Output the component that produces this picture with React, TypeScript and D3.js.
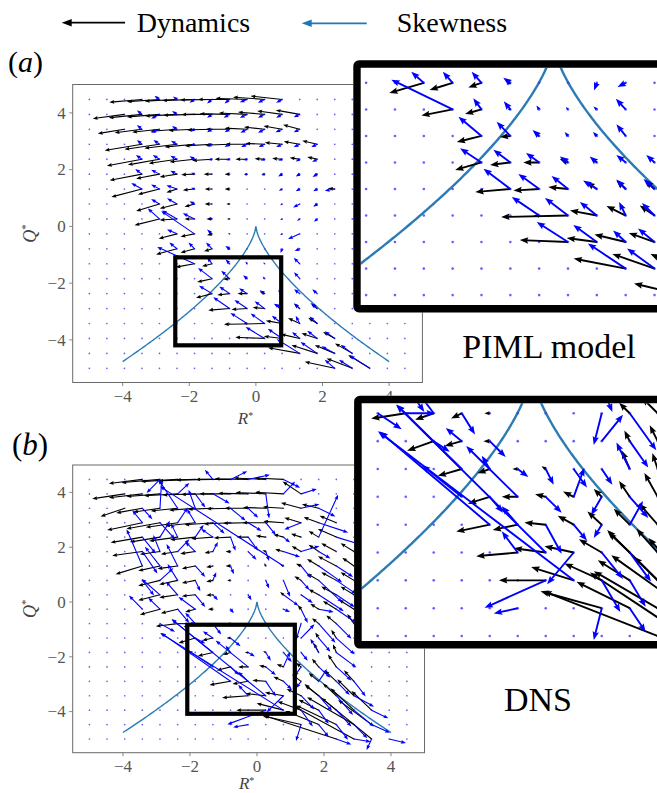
import React, { useLayoutEffect } from 'react';
import * as d3 from 'd3';

// quiver grid (linspace(-5,5,20), last node outside the axes)
const GRID = [-5, -4.474, -3.947, -3.421, -2.895, -2.368, -1.842, -1.316, -0.789, -0.263, 0.263, 0.789, 1.316, 1.842, 2.368, 2.895, 3.421, 3.947, 4.474];
const AXIS_DOMAIN: [number, number] = [-5.5, 5];
const TICKS = [-4, -2, 0, 2, 4];
const CURVE_R_EXTENT: [number, number] = [-4, 4];
// zoom boxes [R0, R1, Q0, Q1]
const ZOOM_BOX_A = [-2.42, 0.76, -4.19, -1.09];
const ZOOM_BOX_B = [-2.08, 1.13, -4.08, -0.83];
// inset view extents
const INSET_A_R: [number, number] = [-3.52, 1.9];
const INSET_A_Q: [number, number] = [-5.196, -0.488];
const INSET_B_R: [number, number] = [-3.196, 2.355];
const INSET_B_Q: [number, number] = [-5.094, -0.6];

type Arrow = [number, number, number, number]; // [col k, row r, dR, dQ]

// (a) PIML model — dynamics (black)
const BLACK_A: Arrow[] = [
  [3,18,-0.98,-0.10],[4,18,-0.98,-0.08],[5,18,-0.97,-0.06],[6,18,-0.97,-0.04],[7,18,-0.96,-0.02],[8,18,-0.95,0],[9,18,-0.95,0.04],[10,18,-0.95,0.08],[11,18,-0.95,0.12],
  [2,17,-0.95,-0.15],[3,17,-1.0,-0.12],[4,17,-0.98,-0.09],[5,17,-0.96,-0.06],[6,17,-0.94,-0.03],[7,17,-0.92,0],[8,17,-0.9,0.02],[9,17,-0.85,0.05],[10,17,-0.8,0.08],[11,17,-0.75,0.12],[12,17,-0.72,0.15],
  [2,16,-0.8,-0.15],[3,16,-0.82,-0.12],[4,16,-0.82,-0.1],[5,16,-0.8,-0.07],[6,16,-0.78,-0.04],[7,16,-0.75,-0.02],[8,16,-0.72,0],[9,16,-0.68,0.04],[10,16,-0.62,0.08],[11,16,-0.56,0.12],[12,16,-0.5,0.16],
  [3,15,-1.12,-0.22],[4,15,-1.05,-0.18],[5,15,-0.98,-0.14],[6,15,-0.9,-0.1],[7,15,-0.82,-0.06],[8,15,-0.74,-0.03],[9,15,-0.65,0],[10,15,-0.58,0.03],[11,15,-0.52,0.06],[12,15,-0.48,0.1],[13,15,-0.45,0.12],
  [3,14,-1.05,-0.23],[4,14,-0.95,-0.2],[5,14,-0.85,-0.15],[6,14,-0.75,-0.1],[7,14,-0.6,-0.05],[8,14,-0.45,0],[9,14,-0.35,0],[10,14,-0.3,0.02],[11,14,-0.3,0.03],[12,14,-0.3,0.05],[13,14,-0.3,0.08],
  [3,13,-0.97,-0.22],[4,13,-0.7,-0.16],[5,13,-0.52,-0.1],[6,13,-0.4,-0.02],[7,13,-0.25,0],[8,13,-0.15,0],[9,13,-0.1,0],[10,13,-0.1,0],[11,13,-0.08,0],[12,13,-0.08,0],[13,13,-0.08,0],
  [3,12,-0.92,-0.28],[4,12,-0.65,-0.19],[5,12,-0.32,-0.12],[6,12,-0.35,-0.04],[7,12,-0.22,0],[8,12,-0.15,0],[12,12,-0.06,0],[13,12,-0.06,0],[14,12,-0.2,0.03],
  [4,11,-0.7,-0.25],[5,11,-0.52,-0.16],[6,11,-0.3,-0.1],[7,11,-0.22,0],[8,11,-0.1,0],[13,11,-0.06,0],
  [4,10,-0.75,-0.22],[5,10,-0.52,-0.04],[6,10,-0.3,0],[7,10,-0.17,0],[8,10,-0.08,0],
  [5,9,-0.55,-0.17],[6,9,-0.42,-0.1],[7,9,-0.15,-0.05],[8,9,-0.05,0],
  [5,8,-0.63,-0.2],[6,8,-0.42,-0.14],[7,8,-0.24,-0.09],[8,8,-0.07,-0.03],
  [6,7,-0.57,-0.12],[7,7,-0.3,-0.09],[8,7,-0.05,0],
  [7,6,-0.45,-0.12],[8,6,-0.19,-0.02],[9,6,-0.05,0],
  [7,5,-0.48,-0.15],[8,5,-0.37,-0.05],[9,5,-0.29,0],[10,5,-0.15,0.07],[11,5,-0.04,0.03],
  [8,4,-0.64,-0.06],[9,4,-0.47,-0.03],[10,4,-0.36,0.04],[11,4,-0.19,0.14],[12,4,-0.17,0.17],[13,4,-0.17,0.17],
  [9,3,-0.1,0],[10,3,-1.22,-0.03],[11,3,-0.49,0.1],[12,3,-0.35,0.19],[13,3,-0.27,0.2],
  [10,2,-0.88,0.04],[11,2,-0.55,0.08],[12,2,-0.57,0.15],[13,2,-0.47,0.18],[14,2,-0.35,0.23],
  [12,1,-0.95,0.2],[13,1,-0.77,0.29],[14,1,-0.6,0.29],[15,1,-0.52,0.35],
  [14,0,-0.9,0.23],[15,0,-0.77,0.35],[16,0,-0.65,0.47],
];

// (a) PIML model — skewness (blue)
const BLUE_A: Arrow[] = [
  [4,18,-0.15,0.13],[5,18,-0.12,0.1],[6,18,-0.15,-0.12],[7,18,-0.15,-0.14],[8,18,-0.15,-0.14],[9,18,-0.22,-0.1],[10,18,-0.2,-0.12],[11,18,-0.18,-0.12],
  [3,17,-0.15,0.15],[4,17,-0.25,-0.15],[5,17,-0.15,0.12],[7,17,-0.15,-0.12],[8,17,-0.18,-0.12],[9,17,-0.22,-0.12],[10,17,-0.2,-0.12],[11,17,-0.18,-0.12],[12,17,-0.18,-0.1],
  [3,16,-0.15,0.15],[4,16,-0.25,-0.12],[5,16,-0.15,0.12],[6,16,-0.12,-0.08],[7,16,-0.15,-0.1],[8,16,-0.15,-0.1],[9,16,-0.2,-0.12],[10,16,-0.2,-0.12],[11,16,-0.2,-0.1],[12,16,-0.18,-0.1],
  [3,15,-0.15,0.15],[4,15,-0.18,0.15],[5,15,-0.18,0.12],[6,15,-0.12,-0.05],[7,15,-0.15,-0.08],[8,15,-0.15,-0.1],[9,15,-0.18,-0.1],[10,15,-0.18,-0.1],[11,15,-0.18,-0.1],[12,15,-0.18,-0.1],[13,15,-0.18,-0.1],
  [3,14,-0.18,0.15],[4,14,-0.2,0.15],[5,14,-0.2,0.12],[6,14,-0.15,0.1],[7,14,-0.12,-0.03],[8,14,-0.12,-0.03],[9,14,-0.12,-0.03],[10,14,-0.12,-0.05],[11,14,-0.12,-0.05],[12,14,-0.12,-0.08],[13,14,-0.15,-0.1],
  [3,13,-0.2,0.18],[4,13,-0.25,0.15],[5,13,-0.2,0.12],[6,13,-0.1,0.05],[9,13,-0.06,-0.05],[10,13,-0.08,-0.05],[11,13,-0.12,-0.08],[12,13,-0.12,-0.08],[13,13,-0.14,-0.1],
  [3,12,-0.32,0.21],[4,12,-0.25,0.16],[5,12,-0.32,0.13],[6,12,-0.1,0.05],[11,12,-0.1,-0.06],[12,12,-0.12,-0.08],[13,12,-0.12,-0.08],[14,12,-0.3,-0.06],
  [4,11,-0.25,0.18],[5,11,-0.3,0.2],[6,11,-0.15,0.1],[11,11,-0.06,-0.04],[12,11,-0.2,-0.12],[13,11,-0.12,-0.1],
  [4,10,-0.35,0.37],[5,10,-0.45,0.3],[6,10,-0.35,0.2],[7,10,-0.08,0.05],[11,10,-0.06,-0.04],[12,10,-0.08,-0.06],[13,10,-0.1,-0.1],
  [5,9,-0.3,0.15],[6,9,-1.0,0.8],[7,9,-0.15,0.15],[11,9,-0.06,-0.04],[12,9,-0.35,-0.18],
  [5,8,-0.23,0.22],[6,8,-0.18,0.22],[7,8,-0.18,0.22],[8,8,-0.13,0.1],[11,8,-0.05,-0.15],[12,8,-0.15,-0.08],
  [6,7,-1.12,0.59],[7,7,-0.15,0.22],[8,7,-0.12,0.16],[9,7,-0.05,0.08],[10,7,-0.04,0.05],[11,7,-0.06,0.06],[12,7,-0.18,0.21],
  [7,6,-0.42,0.38],[8,6,-0.25,0.28],[9,6,-0.12,0.12],[10,6,-0.06,0.08],[11,6,-0.07,0.08],[12,6,-0.17,0.23],
  [7,5,-0.39,0.28],[8,5,-0.31,0.25],[9,5,-0.24,0.19],[10,5,-0.15,0.12],[11,5,-0.13,0.12],[12,5,-0.17,0.15],[13,5,-0.15,0.15],
  [8,4,-0.49,0.4],[9,4,-0.38,0.3],[10,4,-0.3,0.26],[11,4,-0.25,0.17],[12,4,-0.17,0.19],[13,4,-0.2,0.2],
  [9,3,-0.5,0.37],[10,3,-0.42,0.35],[11,3,-0.31,0.27],[12,3,-0.12,0.27],[13,3,-0.23,0.25],
  [10,2,-0.57,0.4],[11,2,-0.43,0.34],[12,2,-0.23,0.23],[13,2,-0.3,0.27],[14,2,-0.3,0.25],
  [12,1,-0.69,0.5],[13,1,-0.5,0.4],[14,1,-0.4,0.25],[15,1,-0.35,0.3],
  [14,0,-0.3,0.3],[15,0,-0.4,0.3],[16,0,-0.6,0.45],
];

// (b) DNS — dynamics (black)
const BLACK_B: Arrow[] = [
  [3,18,-1.0,-0.15],[4,18,-1.15,-0.12],[5,18,-1.1,-0.08],[6,18,-1.1,-0.05],[7,18,-1.1,-0.02],[8,18,-1.05,0],[9,18,-1.0,0.02],[10,18,-0.95,0.05],[11,18,-0.85,0.05],
  [2,17,-0.97,-0.18],[3,17,-1.0,-0.14],[4,17,-1.0,-0.1],[5,17,-1.0,-0.07],[6,17,-0.98,-0.04],[7,17,-0.95,-0.02],[8,17,-0.93,0],[9,17,-0.9,0.02],[10,17,-0.9,0.05],[11,17,-0.85,0.06],[12,17,-0.55,0.45],
  [2,16,-0.72,-0.3],[3,16,-0.78,-0.17],[4,16,-0.8,-0.14],[5,16,-0.8,-0.1],[6,16,-0.78,-0.07],[7,16,-0.75,-0.04],[8,16,-0.72,-0.02],[9,16,-0.7,0],[10,16,-0.68,0.03],[11,16,-0.62,0.05],[12,16,-0.6,0.2],[13,16,-0.5,0.15],
  [3,15,-1.05,-0.27],[4,15,-1.0,-0.22],[5,15,-0.95,-0.17],[6,15,-0.9,-0.12],[7,15,-0.85,-0.08],[8,15,-0.8,-0.05],[9,15,-0.75,-0.02],[10,15,-0.7,0],[11,15,-0.6,0.05],[12,15,-0.5,0.18],[13,15,-0.45,0.2],[14,15,-0.5,0.25],
  [3,14,-0.95,-0.2],[4,14,-0.9,-0.18],[5,14,-0.85,-0.14],[6,14,-0.75,-0.1],[7,14,-0.65,-0.06],[8,14,-0.5,-0.03],[9,14,-0.35,0],[10,14,-0.3,0.05],[11,14,-0.3,0.1],[12,14,-0.3,0.12],[13,14,-0.3,0.22],[14,14,-0.55,0.3],
  [3,13,-0.9,-0.15],[4,13,-0.6,-0.1],[5,13,-0.5,-0.1],[6,13,-0.45,-0.08],[7,13,-0.25,-0.05],[8,13,-0.15,0],[10,13,-0.1,0.05],[11,13,-0.25,0.08],[12,13,-0.28,0.2],[13,13,-0.3,0.25],[14,13,-0.45,0.3],[15,13,-0.4,0.3],
  [3,12,-0.8,-0.3],[4,12,-0.65,-0.18],[5,12,-0.6,-0.1],[6,12,-0.4,-0.1],[7,12,-0.2,-0.05],[8,12,-0.15,0],[10,12,-0.05,0.1],[11,12,-0.1,0.05],[12,12,-0.15,0.08],[13,12,-0.35,0.25],[14,12,-0.55,0.35],[15,12,-0.35,0.3],
  [4,11,-0.65,-0.2],[5,11,-0.55,-0.15],[6,11,-0.4,-0.1],[7,11,-0.2,-0.05],[8,11,-0.1,0],[12,11,-0.2,0.15],[13,11,-0.35,0.25],[14,11,-0.45,0.3],[15,11,-0.4,0.3],
  [4,10,-0.65,-0.2],[5,10,-0.55,-0.1],[6,10,-0.4,-0.05],[7,10,-0.2,-0.02],[11,10,-0.1,0.1],[13,10,-0.3,0.2],[14,10,-0.45,0.3],[15,10,-0.4,0.3],
  [4,9,-0.6,-0.2],[5,9,-0.5,-0.15],[6,9,-0.3,-0.1],[7,9,-0.15,0],[12,9,-0.1,0.15],[13,9,-0.25,0.2],[14,9,-0.4,0.3],[15,9,-0.45,0.35],
  [5,8,-0.65,-0.1],[6,8,-0.35,-0.12],[7,8,-0.2,-0.1],[8,8,-0.1,0],[13,8,-0.2,0.2],[14,8,-0.3,0.3],[15,8,-0.2,0.35],
  [6,7,-0.5,-0.18],[7,7,-0.32,-0.09],[8,7,-0.12,0],[13,7,-0.1,0.2],[14,7,-0.15,0.3],
  [7,6,-0.45,-0.13],[8,6,-0.23,-0.08],[9,6,-0.1,0],[10,6,-0.08,0.05],[13,6,-0.15,0.35],[14,6,-0.1,0.3],
  [8,5,-0.41,-0.13],[9,5,-0.3,0],[10,5,-0.2,0.05],[11,5,-0.2,0.1],[12,5,-0.15,0.15],[13,5,-0.2,0.3],[14,5,-0.25,0.45],
  [8,4,-0.63,-0.13],[9,4,-0.47,-0.1],[10,4,-0.4,0.04],[11,4,-0.3,0.17],[12,4,-0.27,0.25],[13,4,-0.3,0.3],[14,4,-0.35,0.4],[15,4,-0.3,0.4],
  [9,3,-0.78,-0.07],[10,3,-0.6,0.08],[11,3,-0.55,0.12],[12,3,-0.43,0.25],[13,3,-0.4,0.38],[14,3,-0.4,0.45],[15,3,-0.5,0.6],
  [10,2,-0.88,0],[11,2,-0.8,0.25],[12,2,-0.7,0.32],[13,2,-0.6,0.38],[14,2,-0.95,0.95],[15,2,-0.7,0.8],[16,2,-0.6,0.7],
  [12,1,-1.15,0.32],[13,1,-1.0,0.5],[14,1,-1.2,0.7],[15,1,-1.4,1.0],[16,1,-1.0,0.9],
  [14,0,-2.15,0.85],[15,0,-1.8,1.2],[16,0,-1.5,1.5],
];

// (b) DNS — skewness (blue)
const BLUE_B: Arrow[] = [
  [4,18,-0.4,-0.5],[7,18,-0.24,0.35],[8,18,0.5,0.3],[9,18,0.65,0.17],[11,18,0.5,-0.3],
  [5,17,0.35,0.4],[6,17,0.3,-0.5],[7,17,0.5,-0.35],[10,17,0.1,-0.9],[11,17,0.35,0.45],[12,17,0.47,0.18],
  [3,16,0.3,-0.4],[4,16,0.05,1.05],[5,16,-0.58,1.06],[6,16,-0.2,0.68],[8,16,0.45,-0.45],[9,16,0.3,-0.35],[12,16,0.55,0.15],[13,16,0.5,-0.3],
  [3,15,-0.3,0.45],[4,15,0.45,-0.6],[5,15,0.3,0.55],[6,15,-0.25,0.5],[7,15,0.35,-0.4],[9,15,0.4,-0.3],[10,15,0.3,-0.45],[12,15,-0.5,-0.25],[13,15,0.88,-0.36],
  [3,14,0.4,-0.6],[4,14,0.3,0.6],[5,14,-0.2,0.5],[6,14,0.25,0.45],[7,14,-0.35,0.3],[8,14,0.15,-0.5],[9,14,0.3,-0.5],[11,14,0.2,-0.2],[13,14,0.58,1.55],[14,14,0.8,-0.3],
  [3,13,0.45,-0.8],[4,13,-0.2,0.6],[5,13,0.35,0.45],[6,13,-0.3,0.35],[7,13,0.15,0.35],[9,13,0.25,-0.3],[10,13,0.1,-0.35],[11,13,0.5,-0.2],[12,13,0.55,0.2],[13,13,0.35,-0.25],
  [3,12,-0.47,1.34],[4,12,-0.45,0.7],[5,12,-0.33,0.8],[6,12,0.3,-0.4],[8,12,0.1,-0.3],[11,12,-3.68,2.9],[12,12,0.3,-0.45],[13,12,0.7,-0.6],[14,12,0.5,-0.4],
  [3,11,0.35,-0.55],[4,11,0.4,0.45],[5,11,-0.3,0.6],[6,11,0.15,-0.4],[7,11,0.1,0.3],[10,11,0.1,-0.3],[11,11,0.2,-0.6],[12,11,0.25,-0.35],[13,11,0.7,-0.8],[14,11,0.6,-0.5],
  [4,10,-0.55,0.58],[5,10,-0.35,0.48],[6,10,0.3,-0.45],[7,10,0.15,-0.2],[9,10,0.1,-0.2],[11,10,0.45,-0.4],[12,10,0.35,-0.3],[13,10,0.75,-0.6],[14,10,0.55,-0.45],
  [3,9,-0.4,0.5],[4,9,-0.35,0.42],[5,9,0.35,-0.5],[6,9,-0.5,0.45],[8,9,0.1,-0.15],[11,9,0.2,-0.1],[12,9,0.2,-0.5],[13,9,0.45,-0.1],[14,9,0.6,-0.5],[15,9,0.5,-0.4],
  [4,8,0.45,-0.3],[5,8,0.55,0],[6,8,-0.3,0.4],[7,8,0.25,-0.4],[12,8,-0.15,-0.6],[13,8,0.5,-0.7],[14,8,0.45,-0.55],[15,8,0.6,-0.5],
  [6,7,0.3,-0.2],[7,7,-0.3,0.25],[8,7,0.3,-0.3],[12,7,0.4,0.5],[13,7,0.35,-0.5],[14,7,0.55,-0.6],
  [7,6,-1.23,1.22],[8,6,-0.15,0.25],[9,6,0.2,-0.15],[10,6,0.15,-0.3],[11,6,0.25,-0.35],[12,6,0.2,-0.3],[13,6,-0.25,0.5],[14,6,0.6,-0.55],
  [7,5,-0.75,0.6],[8,5,0.25,-0.3],[9,5,-0.97,0.96],[10,5,0.3,-0.3],[11,5,0.2,0.55],[12,5,-0.2,-0.35],[13,5,0.35,-0.4],[14,5,0.45,-0.5],
  [8,4,-2.07,1.76],[9,4,-0.3,0.35],[10,4,0.3,-0.55],[11,4,0.25,-0.3],[12,4,-0.15,-0.25],[13,4,0.25,0.45],[14,4,0.4,-0.5],[15,4,0.35,-0.55],
  [9,3,-0.3,0.4],[10,3,-2.81,2.79],[11,3,-0.5,-0.6],[12,3,0.4,-0.5],[13,3,0.4,-0.55],[14,3,0.5,-0.7],[15,3,0.6,-0.4],
  [10,2,-1.15,-0.52],[11,2,-3.68,2.82],[12,2,0.35,-0.6],[13,2,0.3,-0.5],[14,2,0.45,-0.6],[15,2,0.6,-0.6],[16,2,0.5,-0.3],
  [9,1,-0.45,-0.1],[12,1,-0.15,-0.6],[13,1,0.3,-0.45],[14,1,0.35,-0.55],[15,1,0.4,-0.5],[16,1,0.55,-0.3],
  [14,0,0.45,-0.2],[15,0,0.5,-0.1],[16,0,-0.15,-0.4],[17,0,0.5,-0.15],
];

const SERIF = 'Liberation Serif, DejaVu Serif, Times, serif';
const CURVE_COLOR = '#2b7bb4';
const BLUE = '#0000ff';

function arrowPath(x0: number, y0: number, x1: number, y1: number, w: number, hl: number, hw: number): string | null {
  const dx = x1 - x0, dy = y1 - y0;
  const L = Math.hypot(dx, dy);
  if (L < 0.6) return null;
  const s = L < hl ? L / hl : 1;
  const W = w * Math.max(s, 0.6), HL = hl * s, HW = hw * s, HA = 0.88 * HL;
  const pts: [number, number][] = [
    [0, -W / 2], [L - HA, -W / 2], [L - HL, -HW / 2], [L, 0], [L - HL, HW / 2], [L - HA, W / 2], [0, W / 2],
  ];
  const c = dx / L, sn = dy / L;
  return 'M' + pts.map(([px, py]) => `${(x0 + px * c - py * sn).toFixed(2)},${(y0 + px * sn + py * c).toFixed(2)}`).join('L') + 'Z';
}

function curvePoints(): [number, number][] {
  const n = 240;
  return d3.range(n + 1).map(i => {
    const R = CURVE_R_EXTENT[0] + (CURVE_R_EXTENT[1] - CURVE_R_EXTENT[0]) * i / n;
    return [R, -Math.cbrt(6.75 * R * R)] as [number, number];
  });
}

type Sc = d3.ScaleLinear<number, number>;

function Quiver({ xs, ys, black, blue, w, hl, hw, dotR }: { xs: Sc; ys: Sc; black: Arrow[]; blue: Arrow[]; w: number; hl: number; hw: number; dotR: number }) {
  const draw = (arr: Arrow[], fill: string) =>
    arr.map(([k, r, u, v], i) => {
      const R = GRID[k], Q = GRID[r];
      const d = arrowPath(xs(R), ys(Q), xs(R + u), ys(Q + v), w, hl, hw);
      return d ? <path key={fill + i} d={d} fill={fill} /> : null;
    });
  return (
    <g>
      {GRID.map((Q, r) => GRID.map((R, k) => (
        <circle key={`d${k}-${r}`} cx={xs(R)} cy={ys(Q)} r={dotR} fill="#3a3aff" opacity={0.8} />
      )))}
      {draw(black, '#000')}
      {draw(blue, BLUE)}
    </g>
  );
}

type Box = { x0: number; x1: number; y0: number; y1: number };

function MainPanel({ id, box, black, blue, zoomBox, labelGap }: { id: string; box: Box; black: Arrow[]; blue: Arrow[]; zoomBox: number[]; labelGap: number }) {
  const xs = d3.scaleLinear().domain(AXIS_DOMAIN).range([box.x0, box.x1]);
  const ys = d3.scaleLinear().domain(AXIS_DOMAIN).range([box.y1, box.y0]);
  const line = d3.line<[number, number]>().x(d => xs(d[0])).y(d => ys(d[1]));
  const axisColor = '#6a6a6a';
  const midX = (box.x0 + box.x1) / 2;
  const midY = (box.y0 + box.y1) / 2;
  const fmt = (t: number) => (t < 0 ? '\u2212' + Math.abs(t) : String(t));
  return (
    <g>
      <defs>
        <clipPath id={id}>
          <rect x={box.x0} y={box.y0} width={box.x1 - box.x0} height={box.y1 - box.y0} />
        </clipPath>
      </defs>
      <g clipPath={`url(#${id})`}>
        <path d={line(curvePoints()) || ''} fill="none" stroke={CURVE_COLOR} strokeWidth={1.4} />
        <Quiver xs={xs} ys={ys} black={black} blue={blue} w={1.1} hl={5} hw={3.8} dotR={0.85} />
      </g>
      <rect x={box.x0} y={box.y0} width={box.x1 - box.x0} height={box.y1 - box.y0} fill="none" stroke={axisColor} strokeWidth={1} />
      {TICKS.map(t => (
        <g key={'x' + t}>
          <line x1={xs(t)} x2={xs(t)} y1={box.y1} y2={box.y1 + 3.5} stroke={axisColor} strokeWidth={0.8} />
          <text x={xs(t)} y={box.y1 + 19.5} textAnchor="middle" style={{ fontFamily: SERIF }} fontSize={17} fill="#555">{fmt(t)}</text>
        </g>
      ))}
      {TICKS.map(t => (
        <g key={'y' + t}>
          <line x1={box.x0 - 3.5} x2={box.x0} y1={ys(t)} y2={ys(t)} stroke={axisColor} strokeWidth={0.8} />
          <text x={box.x0 - 7} y={ys(t)} dy="0.34em" textAnchor="end" style={{ fontFamily: SERIF }} fontSize={17} fill="#555">{fmt(t)}</text>
        </g>
      ))}
      <text x={midX - 2} y={box.y1 + labelGap} textAnchor="middle" style={{ fontFamily: SERIF }} fontSize={17} fontStyle="italic" fill="#444">
        R<tspan fontSize={10} dy={-5} fontStyle="normal">*</tspan>
      </text>
      <text transform={`translate(${box.x0 - 37},${midY}) rotate(-90)`} textAnchor="middle" style={{ fontFamily: SERIF }} fontSize={18} fontStyle="italic" fill="#444">
        Q<tspan fontSize={11} dy={-7} fontStyle="normal">*</tspan>
      </text>
      <rect x={xs(zoomBox[0])} y={ys(zoomBox[3])} width={xs(zoomBox[1]) - xs(zoomBox[0])} height={ys(zoomBox[2]) - ys(zoomBox[3])} fill="none" stroke="#000" strokeWidth={4.2} />
    </g>
  );
}

function Inset({ id, box, rDom, qDom, black, blue, border }: { id: string; box: Box; rDom: [number, number]; qDom: [number, number]; black: Arrow[]; blue: Arrow[]; border: number }) {
  const xs = d3.scaleLinear().domain(rDom).range([box.x0, box.x1]);
  const ys = d3.scaleLinear().domain(qDom).range([box.y1, box.y0]);
  const line = d3.line<[number, number]>().x(d => xs(d[0])).y(d => ys(d[1]));
  const half = border / 2;
  return (
    <g>
      <defs>
        <clipPath id={id}>
          <rect x={box.x0} y={box.y0} width={box.x1 - box.x0 + 20} height={box.y1 - box.y0} />
        </clipPath>
      </defs>
      <rect x={box.x0 - border} y={box.y0 - border} width={box.x1 - box.x0 + 40} height={box.y1 - box.y0 + 2 * border} fill="#fff" />
      <g clipPath={`url(#${id})`}>
        <path d={line(curvePoints()) || ''} fill="none" stroke={CURVE_COLOR} strokeWidth={2.4} />
        <Quiver xs={xs} ys={ys} black={black} blue={blue} w={1.9} hl={8.5} hw={6.5} dotR={1.3} />
      </g>
      <rect x={box.x0 - half} y={box.y0 - half} width={box.x1 - box.x0 + 30} height={box.y1 - box.y0 + border} fill="none" stroke="#000" strokeWidth={border} rx={2} />
    </g>
  );
}

function LegendArrow({ x0, x1, y, color }: { x0: number; x1: number; y: number; color: string }) {
  // x0 is the tip (arrow points left)
  const hl = 10, hw = 7.5;
  return (
    <g>
      <line x1={x0 + hl - 1} x2={x1} y1={y} y2={y} stroke={color} strokeWidth={1.8} />
      <path d={`M${x0},${y}L${x0 + hl},${y - hw / 2}L${x0 + hl},${y + hw / 2}Z`} fill={color} />
    </g>
  );
}

export default function App() {
  useLayoutEffect(() => {
    document.body.style.margin = '0';
  }, []);
  const panelA: Box = { x0: 72.7, x1: 422.4, y0: 84.5, y1: 382.5 };
  const panelB: Box = { x0: 72.7, x1: 424.5, y0: 465, y1: 752.7 };
  const insetA: Box = { x0: 360.7, x1: 657.7, y0: 67.7, y1: 305 };
  const insetB: Box = { x0: 361.7, x1: 657, y0: 403.3, y1: 641 };
  const serif = { fontFamily: SERIF };
  return (
    <svg width={657} height={793} style={{ display: 'block', background: '#fff' }} xmlns="http://www.w3.org/2000/svg">
      <rect x={0} y={0} width={657} height={793} fill="#fff" />
      {/* legend */}
      <LegendArrow x0={61.7} x1={125} y={22.7} color="#000" />
      <text x={136.7} y={31.7} style={serif} fontSize={28} fill="#000">Dynamics</text>
      <LegendArrow x0={301.7} x1={366.7} y={23.3} color="#1f77b4" />
      <text x={396.7} y={31.7} style={serif} fontSize={28} fill="#000">Skewness</text>

      {/* panel labels */}
      <text x={8} y={72} style={serif} fontSize={30} fill="#000">(<tspan fontStyle="italic">a</tspan>)</text>
      <text x={12} y={455} style={serif} fontSize={31} fill="#000">(<tspan fontStyle="italic">b</tspan>)</text>

      <MainPanel id="clipA" box={panelA} black={BLACK_A} blue={BLUE_A} zoomBox={ZOOM_BOX_A} labelGap={41} />
      <MainPanel id="clipB" box={panelB} black={BLACK_B} blue={BLUE_B} zoomBox={ZOOM_BOX_B} labelGap={36.3} />

      <Inset id="clipIA" box={insetA} rDom={INSET_A_R} qDom={INSET_A_Q} black={BLACK_A} blue={BLUE_A} border={7.4} />
      <Inset id="clipIB" box={insetB} rDom={INSET_B_R} qDom={INSET_B_Q} black={BLACK_B} blue={BLUE_B} border={7.6} />

      <text x={549} y={358} textAnchor="middle" style={serif} fontSize={34} fill="#000">PIML model</text>
      <text x={538} y={711} textAnchor="middle" style={serif} fontSize={34} fill="#000">DNS</text>
    </svg>
  );
}
